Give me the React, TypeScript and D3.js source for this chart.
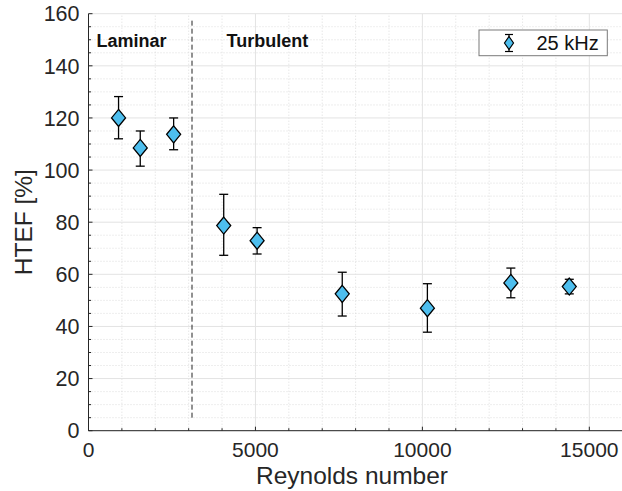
import React from "react";
import * as d3 from "d3";

const reynolds = [900, 1550, 2550, 4050, 5050, 7600, 10150, 12650, 14400];
const htef = [120, 108.5, 113.7, 78.7, 72.9, 52.5, 47, 56.7, 55.3];
const errUpper = [128.2, 115, 120, 90.7, 77.9, 60.8, 56.4, 62.4, 58.1];
const errLower = [112, 101.5, 107.8, 67.3, 67.8, 44, 37.8, 51, 52.5];
const xTicks = [0, 5000, 10000, 15000];
const yTicks = [0, 20, 40, 60, 80, 100, 120, 140, 160];
const transitionRe = 3100;
const transitionSpan = [5, 158];
const regionLabels = ["Laminar", "Turbulent"];
const seriesName = "25 kHz";

const W = 622;
const H = 491;
const FONT = "'Liberation Sans', Arial, Helvetica, sans-serif";

export default function App() {
  const x = d3.scaleLinear().domain([0, 16000]).range([88.5, 622.7]);
  const y = d3.scaleLinear().domain([0, 160]).range([430.7, 13.7]);
  const xMinor = d3.range(0, 16001, 1000).filter((v) => v % 5000 !== 0);
  const yMinor = d3.range(0, 161, 5).filter((v) => v % 20 !== 0);
  const axisColor = "#262626";
  const hw = 7;
  const hh = 8.5;
  const diamond = (cx: number, cy: number) =>
    `M${cx},${cy - hh}L${cx + hw},${cy}L${cx},${cy + hh}L${cx - hw},${cy}Z`;
  const cap = 4.5;
  const x0 = x(0);
  const x1 = x(16000);
  const y0 = y(0);
  const y1 = y(160);

  return (
    <svg width={W} height={H} style={{ position: "absolute", left: 0, top: 0, background: "#fff" }}>
      <rect x={0} y={0} width={W} height={H} fill="#fff" />
      {/* minor grid */}
      {xMinor.map((v) => (
        <line key={"xm" + v} x1={x(v)} x2={x(v)} y1={y0} y2={y1} stroke="#d4d4d4" strokeWidth={0.8} strokeDasharray="1,2" />
      ))}
      {yMinor.map((v) => (
        <line key={"ym" + v} x1={x0} x2={x1} y1={y(v)} y2={y(v)} stroke="#d4d4d4" strokeWidth={0.8} strokeDasharray="1,2" />
      ))}
      {/* major grid */}
      {xTicks.map((v) => (
        <line key={"xg" + v} x1={x(v)} x2={x(v)} y1={y0} y2={y1} stroke="#e3e3e3" strokeWidth={1} />
      ))}
      {yTicks.map((v) => (
        <line key={"yg" + v} x1={x0} x2={x1} y1={y(v)} y2={y(v)} stroke="#e3e3e3" strokeWidth={1} />
      ))}
      {/* axes */}
      <line x1={x0} x2={x0} y1={y0} y2={y1} stroke={axisColor} strokeWidth={1} />
      <line x1={x0} x2={x1} y1={y0} y2={y0} stroke={axisColor} strokeWidth={1} />
      {/* ticks inward */}
      {yTicks.map((v) => (
        <line key={"yt" + v} x1={x0} x2={x0 + 4} y1={y(v)} y2={y(v)} stroke={axisColor} />
      ))}
      {yMinor.map((v) => (
        <line key={"ytm" + v} x1={x0} x2={x0 + 2.5} y1={y(v)} y2={y(v)} stroke={axisColor} />
      ))}
      {xTicks.map((v) => (
        <line key={"xt" + v} x1={x(v)} x2={x(v)} y1={y0} y2={y0 - 4} stroke={axisColor} />
      ))}
      {xMinor.map((v) => (
        <line key={"xtm" + v} x1={x(v)} x2={x(v)} y1={y0} y2={y0 - 2.5} stroke={axisColor} />
      ))}
      {/* tick labels */}
      {yTicks.map((v) => (
        <text key={"yl" + v} x={x0 - 9} y={y(v)} dy="0.36em" textAnchor="end" fontFamily={FONT} fontSize={21.5} fill={axisColor}>
          {v}
        </text>
      ))}
      {xTicks.map((v) => (
        <text key={"xl" + v} x={x(v)} y={y0 + 26.5} textAnchor="middle" fontFamily={FONT} fontSize={21} fill={axisColor}>
          {v}
        </text>
      ))}
      {/* axis labels */}
      <text x={352} y={484} textAnchor="middle" fontFamily={FONT} fontSize={24.5} fill={axisColor}>
        Reynolds number
      </text>
      <text transform={`translate(31.5,${(y0 + y1) / 2}) rotate(-90)`} textAnchor="middle" fontFamily={FONT} fontSize={24.5} fill={axisColor}>
        HTEF [%]
      </text>
      {/* transition line */}
      <line x1={x(transitionRe)} x2={x(transitionRe)} y1={y(transitionSpan[0])} y2={y(transitionSpan[1])} stroke="#222" strokeWidth={1} strokeDasharray="5,3" />
      <text x={96.5} y={46.7} fontFamily={FONT} fontSize={18} fontWeight="bold" fill="#111">
        {regionLabels[0]}
      </text>
      <text x={226.5} y={46.7} fontFamily={FONT} fontSize={18} fontWeight="bold" fill="#111">
        {regionLabels[1]}
      </text>
      {/* error bars */}
      {reynolds.map((r, i) => {
        const cx = x(r);
        return (
          <g key={"e" + i} stroke="#000" strokeWidth={1.3}>
            <line x1={cx} x2={cx} y1={y(errLower[i])} y2={y(errUpper[i])} />
            <line x1={cx - cap} x2={cx + cap} y1={y(errLower[i])} y2={y(errLower[i])} />
            <line x1={cx - cap} x2={cx + cap} y1={y(errUpper[i])} y2={y(errUpper[i])} />
          </g>
        );
      })}
      {/* markers */}
      {reynolds.map((r, i) => (
        <path key={"m" + i} d={diamond(x(r), y(htef[i]))} fill="#4DBEEE" stroke="#000" strokeWidth={1.3} />
      ))}
      {/* legend */}
      <rect x={479} y={30} width={128.3} height={25.7} fill="#fff" stroke="#7a7a7a" strokeWidth={1} />
      <g stroke="#000" strokeWidth={1.2}>
        <line x1={509} x2={509} y1={34.5} y2={51.5} />
        <line x1={505} x2={513} y1={34.5} y2={34.5} />
        <line x1={505} x2={513} y1={51.5} y2={51.5} />
      </g>
      <path d={`M509,36.5L513.5,43L509,49.5L504.5,43Z`} fill="#4DBEEE" stroke="#000" strokeWidth={1.2} />
      <text x={536.5} y={50.2} fontFamily={FONT} fontSize={20} fill="#111">
        {seriesName}
      </text>
    </svg>
  );
}
